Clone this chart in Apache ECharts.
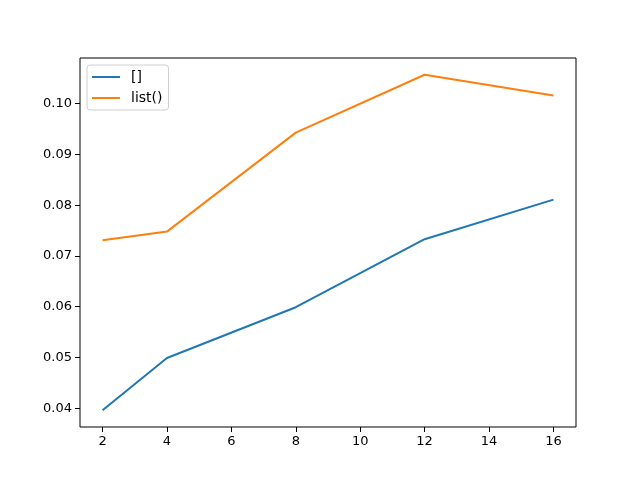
<!DOCTYPE html>
<html><head><meta charset="utf-8">
<script src="https://cdn.jsdelivr.net/npm/echarts@6/dist/echarts.min.js"></script>
<style>html,body{margin:0;padding:0;background:#fff}#c{width:640px;height:480px}</style>
</head><body><div id="c"></div>
<script>
const xValues = [2, 4, 8, 12, 16];
const seriesEmpty = [0.0396, 0.0499, 0.0599, 0.0733, 0.0811];
const seriesList = [0.0731, 0.0748, 0.0943, 0.1057, 0.1016];
const seriesNames = ['[]', 'list()'];
const xTicks = [2, 4, 6, 8, 10, 12, 14, 16];
const yTicks = [0.04, 0.05, 0.06, 0.07, 0.08, 0.09, 0.10];

const chart = echarts.init(document.getElementById('c'), null, {renderer: 'canvas'});
const font = 'DejaVu Sans';
const axisCommon = {
  axisLine: {show: false},
  axisTick: {show: true, inside: false, length: 5, lineStyle: {color: '#000', width: 1}},
  axisLabel: {color: '#000', fontFamily: font, fontSize: 13, margin: 8},
  splitLine: {show: false}
};
chart.setOption({
  animation: false,
  grid: {left: 80, right: 64, top: 58, bottom: 53, show: true, borderColor: '#000', borderWidth: 1, backgroundColor: 'transparent'},
  legend: {
    orient: 'vertical', left: 87, top: 65,
    data: seriesNames.map(n => ({name: n, icon: 'rect'})),
    backgroundColor: 'rgba(255,255,255,0.8)',
    borderColor: '#d0d0d0', borderWidth: 1, borderRadius: 3,
    padding: [5, 6, 5, 5],
    itemGap: 7, itemWidth: 28, itemHeight: 2,
    textStyle: {color: '#000', fontFamily: font, fontSize: 14, lineHeight: 14, padding: [0, 0, 0, 6]}
  },
  xAxis: Object.assign({}, axisCommon, {
    type: 'value', min: 1.3, max: 16.7,
    axisTick: Object.assign({}, axisCommon.axisTick, {customValues: xTicks}),
    axisLabel: Object.assign({}, axisCommon.axisLabel, {customValues: xTicks, formatter: v => String(v)})
  }),
  yAxis: Object.assign({}, axisCommon, {
    type: 'value', min: 0.0363, max: 0.1090,
    axisTick: Object.assign({}, axisCommon.axisTick, {customValues: yTicks}),
    axisLabel: Object.assign({}, axisCommon.axisLabel, {customValues: yTicks, formatter: v => v.toFixed(2)})
  }),
  series: [
    {name: seriesNames[0], type: 'line', data: xValues.map((x, i) => [x, seriesEmpty[i]]), symbol: 'none', lineStyle: {color: '#1f77b4', width: 2}, itemStyle: {color: '#1f77b4'}},
    {name: seriesNames[1], type: 'line', data: xValues.map((x, i) => [x, seriesList[i]]), symbol: 'none', lineStyle: {color: '#ff7f0e', width: 2}, itemStyle: {color: '#ff7f0e'}}
  ]
});
</script></body></html>
